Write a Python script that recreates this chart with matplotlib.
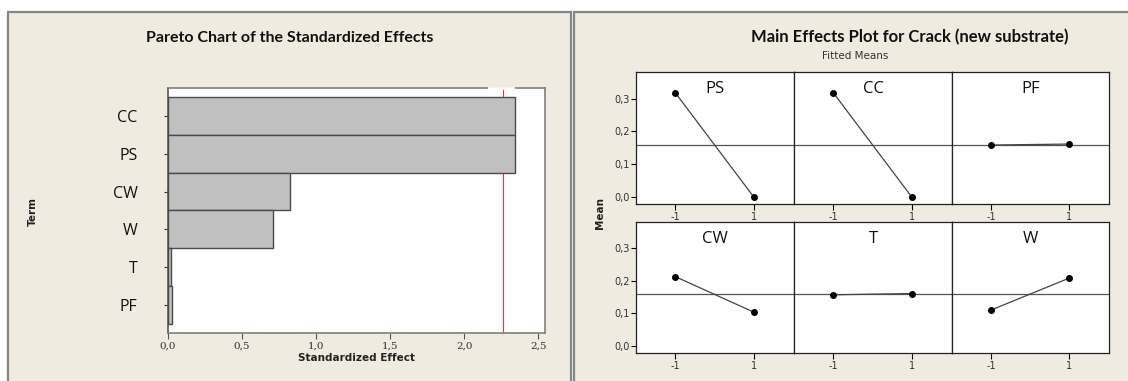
import numpy as np
import matplotlib
matplotlib.use('Agg')
import matplotlib.pyplot as plt
from matplotlib.patches import Rectangle

# pareto data (top to bottom)
terms = ['CC', 'PS', 'CW', 'W', 'T', 'PF']
effects = [2.343, 2.343, 0.822, 0.709, 0.020, 0.025]
t_crit = 2.262
pareto_ticks = [0.0, 0.5, 1.0, 1.5, 2.0, 2.5]

# main effects data
factors = ['PS', 'CC', 'PF', 'CW', 'T', 'W']
levels = [-1, 1]
means = {
    'PS': [0.318, 0.000],
    'CC': [0.318, 0.000],
    'PF': [0.158, 0.161],
    'CW': [0.213, 0.104],
    'T': [0.157, 0.161],
    'W': [0.110, 0.208],
}
grand_mean = 0.159
mean_ticks = [0.0, 0.1, 0.2, 0.3]

W, H = 1128, 381
bg = '#EFEBE1'
fig = plt.figure(figsize=(W / 100, H / 100), dpi=100)
fig.patch.set_facecolor('white')


def px_rect(l, t, r, b):
    return [l / W, 1 - b / H, (r - l) / W, (b - t) / H]


def comma(v, nd=1):
    return f'{v:.{nd}f}'.replace('.', ',')


# panel backgrounds and borders
for (l, t, r, b) in [(8, 12, 571, 390), (574, 12, 1140, 390)]:
    fig.patches.append(Rectangle((l / W, 1 - b / H), (r - l) / W, (b - t) / H,
                                 transform=fig.transFigure, facecolor=bg,
                                 edgecolor='#858585', linewidth=1.6, zorder=-1))

# ---------- pareto chart ----------
ax = fig.add_axes(px_rect(168, 88, 545, 333))
ax.set_facecolor('white')
ypos = np.arange(len(terms))
ax.barh(ypos, effects, height=1.0, color='#C0C0C0', edgecolor='#4A4A4A',
        linewidth=1.0, zorder=3)
ax.axvline(t_crit, color='#FF3030', linewidth=0.8, zorder=2)
ax.set_xlim(0, 2.545)
ax.set_ylim(5.75, -0.75)
ax.set_yticks(ypos)
ax.set_yticklabels(terms, fontsize=11.5, family='Open Sans', color='#111111')
ax.set_xticks(pareto_ticks)
ax.set_xticklabels([comma(v) for v in pareto_ticks], fontsize=7.5,
                   family='DejaVu Serif', color='#333333')
ax.tick_params(axis='y', length=3, width=0.8, direction='out', pad=19,
               color='#333333')
ax.tick_params(axis='x', length=4, width=0.8, direction='out', pad=2,
               color='#555555')
for s in ax.spines.values():
    s.set_color('#808080')
    s.set_linewidth(1.2)
ax.spines['left'].set_color('#555555')
# small gap in the top frame, as in the original
ax.plot([2.17, 2.33], [-0.75, -0.75], color='white', linewidth=2,
        clip_on=False, zorder=5)
ax.set_xlabel('Standardized Effect', fontsize=7.5, fontweight='bold',
              family='DejaVu Sans', color='#222222', labelpad=2)
fig.text(290 / W, 1 - 38 / H, 'Pareto Chart of the Standardized Effects',
         ha='center', va='center', fontsize=11.5, fontweight='bold',
         family='Lato', color='#111111')
fig.text(33 / W, 1 - 211 / H, 'Term', rotation=90, ha='center', va='center',
         fontsize=7.5, fontweight='bold', family='DejaVu Sans', color='#222222')

# ---------- main effects plot ----------
col_l = [636, 794, 952]
col_r = [794, 952, 1109]
row_t = [72, 222]
row_b = [204, 353]
for i, f in enumerate(factors):
    r, c = divmod(i, 3)
    a = fig.add_axes(px_rect(col_l[c], row_t[r], col_r[c], row_b[r]))
    a.set_facecolor('white')
    a.axhline(grand_mean, color='#555555', linewidth=0.9, zorder=1)
    a.plot(levels, means[f], color='#444444', linewidth=0.9, marker='o',
           markersize=4, markerfacecolor='black', markeredgecolor='black',
           zorder=3)
    a.set_xlim(-2.0, 2.03)
    a.set_ylim(-0.022, 0.381)
    a.set_xticks(levels)
    a.set_xticklabels(['-1', '1'], fontsize=7, family='DejaVu Sans',
                      color='#333333')
    a.set_yticks(mean_ticks)
    if c == 0:
        a.set_yticklabels([comma(v) for v in mean_ticks], fontsize=7,
                          family='DejaVu Sans', color='#333333')
        a.tick_params(axis='y', length=3.5, width=0.8, direction='out', pad=1)
    else:
        a.tick_params(axis='y', length=0, labelleft=False)
    a.tick_params(axis='x', length=4, width=0.8, direction='out', pad=2)
    for s in a.spines.values():
        s.set_color('#222222')
        s.set_linewidth(0.9)
    a.text(0.5, 0.93, f, transform=a.transAxes, ha='center', va='top',
           fontsize=12, family='Open Sans', color='#111111')

fig.text(910 / W, 1 - 37 / H, 'Main Effects Plot for Crack (new substrate)',
         ha='center', va='center', fontsize=12, fontweight='bold',
         family='Lato', color='#111111')
fig.text(855 / W, 1 - 56 / H, 'Fitted Means', ha='center', va='center',
         fontsize=7.5, family='DejaVu Sans', color='#333333')
fig.text(600 / W, 1 - 213 / H, 'Mean', rotation=90, ha='center', va='center',
         fontsize=7.5, fontweight='bold', family='DejaVu Sans', color='#222222')

fig.savefig('out.png', dpi=100, facecolor=fig.get_facecolor())
plt.close()
